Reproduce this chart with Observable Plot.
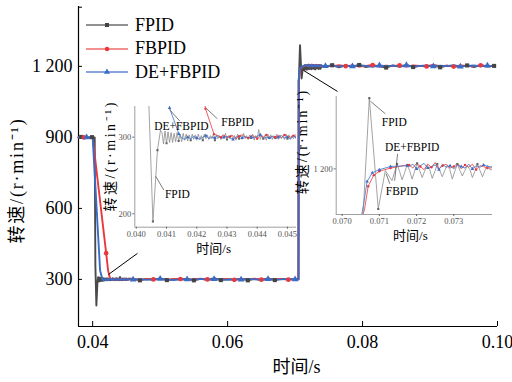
<!DOCTYPE html>
<html><head><meta charset="utf-8">
<script src="https://cdn.jsdelivr.net/npm/d3@7"></script>
<script src="https://cdn.jsdelivr.net/npm/@observablehq/plot@0.6"></script>
<style>
body{margin:0;background:#fff;}
#wrap{position:relative;width:512px;height:382px;overflow:hidden;font-family:"Liberation Serif","Noto Sans CJK SC",serif;}
.leg{position:absolute;left:86px;height:22px;display:flex;align-items:center;font-size:18px;color:#000;font-family:"Liberation Serif",serif;}
.leg span{margin-left:7px;}
</style></head><body><div id="wrap"></div>
<script>
// ---------- data ----------
const seriesNames = ["FPID", "FBPID", "DE+FBPID"];
const xTicksMain = [0.04, 0.06, 0.08, 0.10];
const yTicksMain = [300, 600, 900, 1200];
const xTicksIn1 = [0.040, 0.041, 0.042, 0.043, 0.044, 0.045];
const yTicksIn1 = [200, 300];
const xTicksIn2 = [0.070, 0.071, 0.072, 0.073];
const yTicksIn2 = [1200];

// FPID
const fpidHead = [[0.0379,900],[0.0383,902],[0.0387,899],[0.0391,901],[0.0395,898],[0.0399,901],[0.0403,900],[0.0404,360],[0.04055,190],[0.0407,283],[0.0408,309]];
const fpidRing1 = [306,291,308,292,307,293,306,293,305,294,306,295,304,294,305,296,304,295,303,296,304,297,303,296,304,297,302,296,304,298,303,297,302,298,304,296,303,298,302,297,303,298,305,297,302,298,303,297,302,296,304,298,303,297,305,298,302,297,303,299,304,296,302,298,310,297,303,298,302,296,304,298,303,297,302,299,304,297,303,298,302,297,304,298,303,297,302,298,303];
const fpidFlat1 = [303,296,302,298,304,297,301,299,303,296,302,298,305,297,301,299,303,296,302,298,304,297,302,299,301];
const fpidRise = [[0.0705,301],[0.07056,1140],[0.07073,1290],[0.07097,1149],[0.07116,1198]];
const fpidRing2 = [1185,1196,1206,1197,1186,1195,1205,1198,1187,1197,1207,1198,1189,1197,1205,1199,1188,1196,1206,1198,1190,1198,1205,1199,1187,1197,1206,1198,1191,1198,1204,1199,1189,1197,1206,1198,1190,1198,1205,1199];
const fpidFlat2 = [1198,1205,1196,1204,1199,1206,1197,1203,1200,1195,1204,1198,1206,1197,1202,1199,1205,1196,1203,1200,1198,1204,1197,1205,1199,1202];

// FBPID
const fbHead = [[0.0379,899],[0.0383,901],[0.0387,900],[0.0391,902],[0.0395,899],[0.0400,900],[0.0420,411],[0.04229,337],[0.04257,304]];
const fbRing1 = [302,300,303,299,301,302,298,301,303,300,299,302,301,298,302,300,303,299,301,300,302,299,303,301,300,302,299];
const fbFlat1 = [301,298,302,300,303,299,301,302,298,301,303,300,299,302,301,298,302,300,303,299,301,300,302,299,301];
const fbRise = [[0.0705,300],[0.07054,1140],[0.07060,1148],[0.07070,1178],[0.07085,1192],[0.0710,1197],[0.0713,1201],[0.07175,1205]];
const fbRing2 = [1205,1201,1207,1203,1199,1206,1202,1208,1200,1204,1206,1201,1203,1207,1200,1205,1202,1206,1199,1204,1203,1201];
const fbFlat2 = [1203,1200,1205,1201,1204,1199,1202,1206,1200,1203,1201,1205,1199,1204,1202,1200,1206,1201,1203,1199,1204,1202,1200,1205,1201,1203];

// DE+FBPID
const deHead = [[0.0379,901],[0.0383,899],[0.0387,902],[0.0391,900],[0.0395,901],[0.0400,900],[0.0411,338],[0.04141,304]];
const deRing1 = [299,297,300,298,301,299,297,300,302,298,300,299,302,298,300,301,299,297,300,302,299,301,298,300,299,301,303,298,300,299,301,298,300,302,299,300,298,301,300];
const deFlat1 = [299,301,298,300,302,299,297,301,300,298,302,299,301,300,298,301,299,302,300,298,301,299,300,302,300];
const deRise = [[0.0705,300],[0.07052,1140],[0.07058,1156],[0.07067,1184],[0.07081,1195],[0.0710,1199],[0.0713,1203],[0.07175,1204]];
const deRing2 = [1203,1206,1200,1204,1207,1201,1203,1205,1199,1206,1202,1204,1200,1205,1203,1201,1206,1200,1204,1202,1205,1203];
const deFlat2 = [1201,1204,1199,1203,1200,1205,1202,1198,1204,1201,1203,1200,1205,1199,1202,1204,1200,1203,1201,1205,1199,1202,1204,1200,1203,1201];

// ---------- build ----------
const seg = (start, step, vals) => vals.map((v, i) => [start + i * step, v]);
const fpidF1 = seg(0.046, 0.001, fpidFlat1), fpidF2 = seg(0.0745, 0.001, fpidFlat2);
const fbF1 = seg(0.046, 0.001, fbFlat1), fbF2 = seg(0.0745, 0.001, fbFlat2);
const deF1 = seg(0.046, 0.001, deFlat1), deF2 = seg(0.0745, 0.001, deFlat2);
const fpidR1 = seg(0.04085, 0.00005, fpidRing1), fpidR2 = seg(0.07134, 0.0000675, fpidRing2);
const fbR1 = seg(0.0427, 0.0001, fbRing1), fbR2 = seg(0.0718, 0.0001, fbRing2);
const deR1 = seg(0.0415, 0.0001, deRing1), deR2 = seg(0.0718, 0.0001, deRing2);

const fpidPts = [...fpidHead, ...fpidR1, ...fpidF1, ...fpidRise, ...fpidR2, ...fpidF2];
const fbPts = [...fbHead, ...fbR1, ...fbF1, ...fbRise, ...fbR2, ...fbF2];
const dePts = [...deHead, ...deR1, ...deF1, ...deRise, ...deR2, ...deF2];

const every = (arr, n, k) => arr.filter((d, i) => i % n === k);
const fpidMk = [fpidHead[1], fpidHead[5], ...every(fpidF1, 4, 1), ...every(fpidF2, 4, 1)];
const fbMk = [fbHead[2], fbHead[6], ...every(fbF1, 4, 3), ...every(fbF2, 4, 3)];
const deMk = [deHead[3], ...every(deF1, 4, 0), ...every(deF2, 4, 0)];

const fpidMkIn = [fpidHead[8], fpidHead[9], ...every(fpidR1, 8, 3), fpidRise[2], fpidRise[3], ...every(fpidR2, 8, 2)];
const fbMkIn = [fbHead[7], fbHead[8], ...every(fbR1, 3, 1), ...fbRise.slice(3), ...every(fbR2, 3, 0)];
const deMkIn = [deHead[6], deHead[7], ...every(deR1, 3, 2), ...deRise.slice(3), ...every(deR2, 3, 2)];

const COL = {fpid: "#4a4a4a", fb: "#e8383d", de: "#3a6bc5"};
const COLIN = {fpid: "#8c8c8c", fb: "#ef4d4d", de: "#4f7fd0"};
const FONT = '"Liberation Serif","Noto Sans CJK SC",serif';
const X = d => d[0], Y = d => d[1];
const fmtY = d => d3.format(",")(d).replace(/,/g, " ");
const ylab = "转速/(r·min⁻¹)", xlab = "时间/s";

const wrap = document.getElementById("wrap");
const spaceLabel = (svg, sp) => d3.select(svg).selectAll("text")
  .filter(function () { return this.textContent === ylab; })
  .style("letter-spacing", sp + "px");

// ---------- main ----------
const main = Plot.plot({
  width: 512, height: 382, marginLeft: 78, marginRight: 15, marginTop: 6, marginBottom: 56,
  x: {domain: [0.0379, 0.1]}, y: {domain: [101, 1453]},
  style: {fontFamily: FONT, background: "transparent", overflow: "visible", color: "#000"},
  marks: [
    Plot.ruleX([0.0379], {stroke: "#000", strokeWidth: 1.2}),
    Plot.ruleY([101], {stroke: "#000", strokeWidth: 1.2}),
    Plot.axisY([...yTicksMain, 1450], {tickSize: -4, tickFormat: () => "", label: null}),
    Plot.axisY(yTicksMain, {tickSize: 0, tickPadding: 6, tickFormat: fmtY, fontSize: 18, label: null}),
    Plot.axisX(xTicksMain, {tickSize: -5, tickFormat: () => "", label: null}),
    Plot.axisX(xTicksMain, {tickSize: 0, tickPadding: 9, tickFormat: d3.format(".2f"), fontSize: 18, label: null}),
    Plot.line(fpidPts, {x: X, y: Y, stroke: COL.fpid, strokeWidth: 1.9}),
    Plot.line(fbPts, {x: X, y: Y, stroke: COL.fb, strokeWidth: 1.9}),
    Plot.line(dePts, {x: X, y: Y, stroke: COL.de, strokeWidth: 1.9}),
    Plot.dot(fpidMk, {x: X, y: Y, symbol: "square", r: 2.3, fill: "#444"}),
    Plot.dot(fbMk, {x: X, y: Y, symbol: "circle", r: 2.3, fill: COL.fb}),
    Plot.dot(deMk, {x: X, y: Y, symbol: "triangle", r: 2.5, fill: COL.de}),
    Plot.link([[0.04235, 321, 0.04664, 410], [0.07125, 1183, 0.07629, 1094]],
      {x1: d => d[0], y1: d => d[1], x2: d => d[2], y2: d => d[3], stroke: "#000", strokeWidth: 1}),
    Plot.text([ylab], {frameAnchor: "left", dx: -61, dy: 14, rotate: -90, textAnchor: "middle", lineAnchor: "middle", fontSize: 18, fill: "#000"}),
    Plot.text([xlab], {frameAnchor: "bottom", dx: 8.5, dy: 41, textAnchor: "middle", lineAnchor: "middle", fontSize: 18, fill: "#000"})
  ]
});
main.style.position = "absolute"; main.style.left = "0px"; main.style.top = "0px";
spaceLabel(main, 1.8);
wrap.appendChild(main);

// ---------- inset helper ----------
function inset(o) {
  const p = Plot.plot({
    width: o.w, height: o.h, marginLeft: o.ml, marginRight: o.mr, marginTop: o.mt, marginBottom: o.mb,
    x: {domain: o.xd}, y: {domain: o.yd},
    style: {fontFamily: FONT, background: "transparent", overflow: "visible", color: "#666"},
    marks: [
      Plot.ruleX([o.xd[0]], {stroke: "#888", strokeWidth: 0.8}),
      Plot.ruleY([o.yd[0]], {stroke: "#888", strokeWidth: 0.8}),
      Plot.axisY(o.yt, {tickSize: 2, tickPadding: 1.5, tickFormat: fmtY, fontSize: 8.5, label: null, fill: "#555"}),
      Plot.axisX(o.xt, {tickSize: 2, tickPadding: 1.5, tickFormat: d3.format(".3f"), fontSize: 8.5, label: null, fill: "#555"}),
      Plot.line(fpidPts, {x: X, y: Y, stroke: COLIN.fpid, strokeWidth: 0.8, clip: true}),
      Plot.line(fbPts, {x: X, y: Y, stroke: COLIN.fb, strokeWidth: 0.9, clip: true}),
      Plot.line(dePts, {x: X, y: Y, stroke: COLIN.de, strokeWidth: 0.9, clip: true}),
      Plot.dot(fpidMkIn, {x: X, y: Y, symbol: "square", r: 1.2, fill: "#666", clip: true}),
      Plot.dot(fbMkIn, {x: X, y: Y, symbol: "circle", r: 1.2, fill: COL.fb, clip: true}),
      Plot.dot(deMkIn, {x: X, y: Y, symbol: "triangle", r: 1.3, fill: COL.de, clip: true}),
      Plot.link(o.links, {x1: d => d[0], y1: d => d[1], x2: d => d[2], y2: d => d[3], stroke: "#444", strokeWidth: 0.7}),
      Plot.text(o.notes, {x: d => d[1], y: d => d[2], text: d => d[0], fontSize: 11.5, fill: "#000", textAnchor: "middle", lineAnchor: "middle"}),
      Plot.text([ylab], {frameAnchor: "left", dx: o.ylx, dy: o.yly, rotate: -90, textAnchor: "middle", lineAnchor: "middle", fontSize: 14, fill: "#000"}),
      Plot.text([xlab], {frameAnchor: "bottom", dx: o.xlx, dy: o.xly, textAnchor: "middle", lineAnchor: "middle", fontSize: 13, fill: "#000"})
    ]
  });
  p.style.position = "absolute"; p.style.left = o.left + "px"; p.style.top = o.top + "px";
  spaceLabel(p, o.sp);
  wrap.appendChild(p);
}

inset({
  left: 100, top: 96, w: 200, h: 162, ml: 34.3, mr: 4, mt: 10, mb: 31.3,
  xd: [0.03995, 0.0453], yd: [182.5, 340], xt: xTicksIn1, yt: yTicksIn1,
  links: [[0.0411, 336, 0.04144, 321], [0.04233, 337, 0.04268, 324], [0.04064, 249, 0.04091, 231]],
  notes: [["DE+FBPID", 0.04149, 314], ["FBPID", 0.04335, 319.6], ["FPID", 0.04136, 225]],
  ylx: -24.3, yly: -11, xlx: -2, xly: 21.3, sp: 2.5
});

inset({
  left: 290, top: 84, w: 215, h: 160, ml: 45.7, mr: 13, mt: 12, mb: 30,
  xd: [0.06984, 0.07404], yd: [1142, 1292], xt: xTicksIn2, yt: yTicksIn2,
  links: [[0.07076, 1286, 0.07116, 1270], [0.07149, 1219, 0.07141, 1185], [0.07128, 1181, 0.07118, 1194]],
  notes: [["FPID", 0.07140, 1259], ["DE+FBPID", 0.07188, 1227], ["FBPID", 0.07161, 1172]],
  ylx: -33.7, yly: -14, xlx: -4, xly: 21, sp: 2
});

// ---------- legend ----------
const legItems = [
  {name: seriesNames[0], line: "#6e6e6e", mark: "#444", sym: "square"},
  {name: seriesNames[1], line: "#f06a6a", mark: COL.fb, sym: "circle"},
  {name: seriesNames[2], line: "#5f86d2", mark: COL.de, sym: "triangle"}
];
const legY = [25, 48.5, 72];
const ns = "http://www.w3.org/2000/svg";
legItems.forEach((it, i) => {
  const row = document.createElement("div");
  row.className = "leg";
  row.style.top = (legY[i] - 11) + "px";
  const s = document.createElementNS(ns, "svg");
  s.setAttribute("width", 42); s.setAttribute("height", 22);
  const ln = document.createElementNS(ns, "line");
  ln.setAttribute("x1", 0); ln.setAttribute("x2", 42); ln.setAttribute("y1", 11); ln.setAttribute("y2", 11);
  ln.setAttribute("stroke", it.line); ln.setAttribute("stroke-width", 1.3);
  s.appendChild(ln);
  const m = document.createElementNS(ns, "path");
  const sym = it.sym === "square" ? d3.symbolSquare : it.sym === "circle" ? d3.symbolCircle : d3.symbolTriangle;
  m.setAttribute("d", d3.symbol(sym, 16)());
  m.setAttribute("transform", "translate(21,11)");
  m.setAttribute("fill", it.mark);
  s.appendChild(m);
  row.appendChild(s);
  const t = document.createElement("span");
  t.textContent = it.name;
  row.appendChild(t);
  wrap.appendChild(row);
});
</script></body></html>
